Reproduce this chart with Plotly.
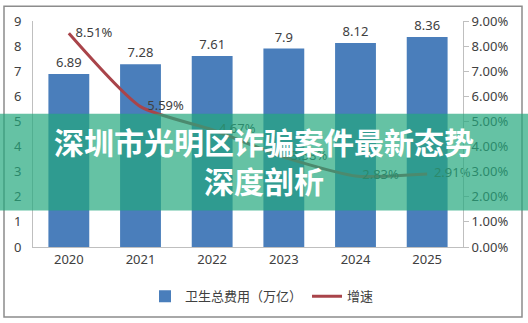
import plotly.graph_objects as go

years = ["2020", "2021", "2022", "2023", "2024", "2025"]
spend = [6.89, 7.28, 7.61, 7.9, 8.12, 8.36]
growth = [0.0851, 0.0559, 0.0467, 0.0358, 0.0283, 0.0291]
growth_labels = ["8.51%", "5.59%", "4.67%", "3.58%", "2.83%", "2.91%"]
left_ticks = list(range(0, 10))
right_ticks = [i / 100 for i in range(0, 10)]
title_text = "深圳市光明区诈骗案件最新态势<br>深度剖析"

L, R, T, B = 33, 65, 18, 76
W, H = 528, 323
pw = W - L - R
ph = H - T - B

def px_x(x):
    return (x - L) / pw

def px_y(y):
    return (H - B - y) / ph

font_num = "Noto Sans, Liberation Sans, sans-serif"
font_cjk = "Noto Sans CJK SC, sans-serif"

fig = go.Figure()
fig.add_trace(go.Bar(
    x=years, y=spend, name="卫生总费用（万亿）",
    marker=dict(color="#4A7EBB", line=dict(width=0)),
    text=[str(v) for v in spend], textposition="outside",
    textfont=dict(size=13, color="#404040", family=font_num),
    cliponaxis=False,
))
fig.add_trace(go.Scatter(
    x=years, y=growth, name="增速", yaxis="y2",
    mode="lines+text",
    line=dict(color="#A9444A", width=3, shape="spline", smoothing=0.6),
    text=["  " + t for t in growth_labels], textposition="middle right",
    textfont=dict(size=13, color="#404040", family=font_num),
    cliponaxis=False,
))

fig.update_layout(
    width=W, height=H,
    margin=dict(l=L, r=R, t=T, b=B),
    paper_bgcolor="white", plot_bgcolor="white",
    bargap=0.43,
    showlegend=True,
    legend=dict(orientation="h", x=px_x(262), xanchor="center",
                y=px_y(297), yanchor="middle",
                font=dict(size=13, color="#404040", family=font_cjk),
                bgcolor="rgba(0,0,0,0)"),
    xaxis=dict(showline=True, linecolor="#BFBFBF", linewidth=1,
               ticks="", showgrid=False,
               tickfont=dict(size=13, color="#404040", family=font_num)),
    yaxis=dict(range=[0, 9], tickvals=left_ticks, showgrid=False,
               showline=True, linecolor="#BFBFBF", linewidth=1,
               ticks="", zeroline=False,
               tickfont=dict(size=13, color="#404040", family=font_num),
               ticklabelstandoff=8),
    yaxis2=dict(range=[0, 0.09], tickvals=right_ticks, tickformat=".2%",
                overlaying="y", side="right", showgrid=False,
                showline=True, linecolor="#BFBFBF", linewidth=1,
                ticks="outside", ticklen=5, tickcolor="#BFBFBF",
                zeroline=False,
                tickfont=dict(size=13, color="#404040", family=font_num)),
    shapes=[
        dict(type="rect", xref="paper", yref="paper",
             x0=px_x(4), x1=px_x(522), y0=px_y(318), y1=px_y(3),
             line=dict(color="#8C8C8C", width=1.5), fillcolor="rgba(0,0,0,0)",
             layer="below"),
        dict(type="rect", xref="paper", yref="paper",
             x0=px_x(0), x1=px_x(528), y0=px_y(210), y1=px_y(112),
             line=dict(width=0), fillcolor="rgba(36,168,126,0.7)",
             layer="above"),
    ],
    annotations=[
        dict(text="<b>" + title_text + "</b>", xref="paper", yref="paper",
             x=px_x(264), y=px_y(159), xanchor="center", yanchor="middle",
             showarrow=False,
             font=dict(size=30, color="white", family=font_cjk)),
    ],
)

fig.write_html("out.html")
